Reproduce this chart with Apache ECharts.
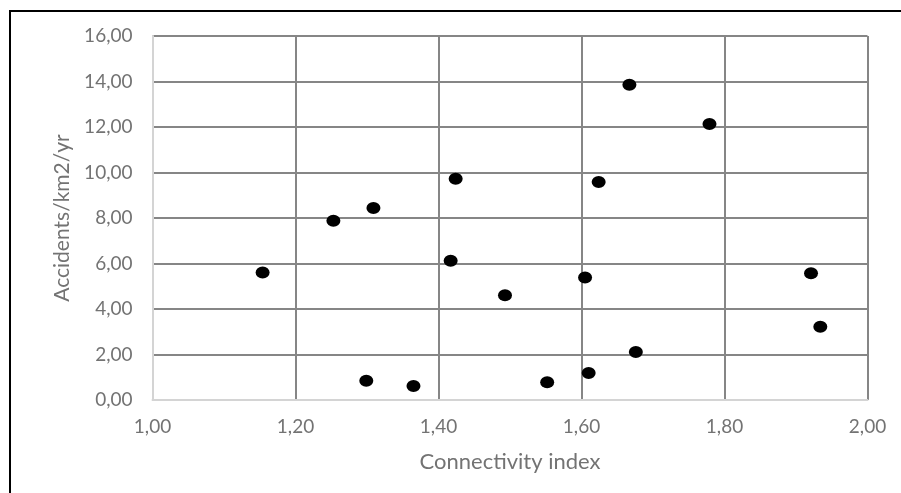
<!DOCTYPE html>
<html>
<head>
<meta charset="utf-8">
<script src="https://cdn.jsdelivr.net/npm/echarts@6/dist/echarts.min.js"></script>
<style>
html,body{margin:0;padding:0;background:#fff;}
#chart{width:901px;height:493px;}
</style>
</head>
<body>
<div id="chart"></div>
<script>
var connectivity = [1.154, 1.253, 1.309, 1.299, 1.365, 1.417, 1.424, 1.493, 1.552, 1.605, 1.610, 1.624, 1.667, 1.676, 1.779, 1.921, 1.934];
var accidents    = [5.60, 7.88, 8.44, 0.85, 0.62, 6.12, 9.73, 4.60, 0.78, 5.38, 1.19, 9.58, 13.86, 2.11, 12.13, 5.57, 3.22];
var xTicks = [1.0, 1.2, 1.4, 1.6, 1.8, 2.0];
var yTicks = [0, 2, 4, 6, 8, 10, 12, 14, 16];
var xTitle = 'Connectivity index';
var yTitle = 'Accidents/km2/yr';

var points = connectivity.map(function (x, i) { return [x, accidents[i]]; });
function fmt(v) { return v.toFixed(2).replace('.', ','); }

var chart = echarts.init(document.getElementById('chart'), null, {renderer: 'canvas'});
var textColor = '#737373';
var gridColor = '#868686';
var axisColor = '#d4d4d4';
var font = 'Lato, "Open Sans", sans-serif';

chart.setOption({
  animation: false,
  backgroundColor: '#fff',
  graphic: [{
    type: 'rect',
    shape: {x: 10, y: 11, width: 1000, height: 1000},
    style: {fill: 'none', stroke: '#000', lineWidth: 2},
    silent: true
  }],
  grid: {left: 152.5, top: 36, right: 33.5, bottom: 93, containLabel: false},
  xAxis: {
    type: 'value',
    min: xTicks[0], max: xTicks[xTicks.length - 1], interval: 0.2,
    name: xTitle, nameLocation: 'middle', nameGap: 51,
    nameTextStyle: {color: textColor, fontSize: 22, fontFamily: font},
    axisLine: {show: true, lineStyle: {color: axisColor, width: 2}},
    axisTick: {show: false},
    axisLabel: {color: textColor, fontSize: 19, fontFamily: font, margin: 17, formatter: fmt},
    splitLine: {show: true, showMinLine: false, lineStyle: {color: gridColor, width: 2}}
  },
  yAxis: {
    type: 'value',
    min: yTicks[0], max: yTicks[yTicks.length - 1], interval: 2,
    name: yTitle, nameLocation: 'middle', nameGap: 79, nameRotate: 90,
    nameTextStyle: {color: textColor, fontSize: 21, fontFamily: font},
    axisLine: {show: true, lineStyle: {color: axisColor, width: 2}},
    axisTick: {show: false},
    axisLabel: {color: textColor, fontSize: 19, fontFamily: font, margin: 20, formatter: fmt},
    splitLine: {show: true, showMinLine: false, lineStyle: {color: gridColor, width: 2}}
  },
  series: [{
    type: 'scatter',
    data: points,
    symbol: 'circle',
    symbolSize: [14, 12],
    itemStyle: {color: '#000', opacity: 1}
  }]
});
</script>
</body>
</html>
